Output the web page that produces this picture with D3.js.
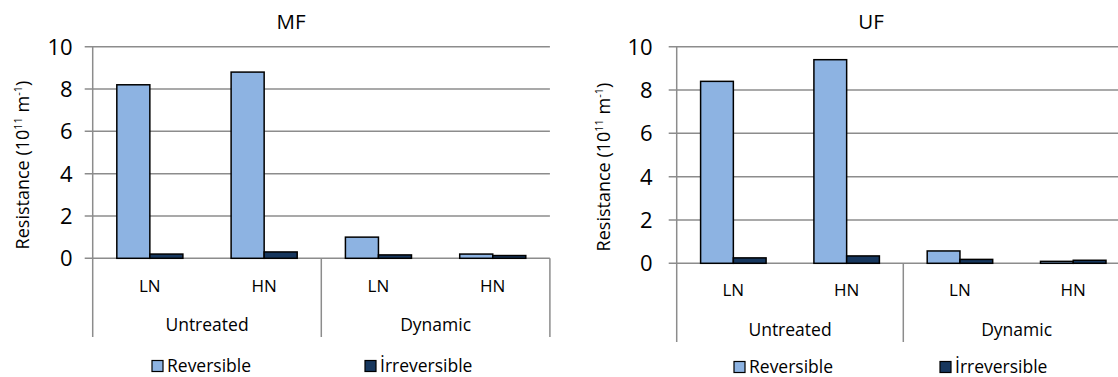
<!DOCTYPE html>
<html>
<head>
<meta charset="utf-8">
<script src="https://cdn.jsdelivr.net/npm/d3@7"></script>
<style>
	body { margin: 0; background: #fff; }
	svg { display: block; font-family: "Open Sans", sans-serif; }
</style>
</head>
<body>
<div id="chart"></div>
<script>
// data
const categories = ["LN", "HN", "LN", "HN"];
const groups = ["Untreated", "Dynamic"];
const seriesNames = ["Reversible", "İrreversible"];
const seriesColors = ["#8db3e2", "#17375e"];
const yTicks = [0, 2, 4, 6, 8, 10];

const mfReversible = [8.2, 8.8, 1.0, 0.2];
const mfIrreversible = [0.2, 0.3, 0.16, 0.13];
const ufReversible = [8.4, 9.4, 0.57, 0.09];
const ufIrreversible = [0.25, 0.34, 0.18, 0.14];

const svg = d3.select("#chart").append("svg")
	.attr("width", 1118).attr("height", 377);

// one panel per membrane
const drawPanel = (p) => {
	const g = svg.append("g");
	const y = d3.scaleLinear().domain([0, 10]).range([p.y0, p.y10]);
	const x = d3.scaleBand().domain(d3.range(categories.length))
		.range([p.left, p.left + p.step * categories.length]).paddingInner(0).paddingOuter(0);
	const xs = d3.scaleBand().domain([0, 1]).range([0, x.bandwidth()])
		.paddingInner(0).paddingOuter(0.73);

	// grid lines + ticks
	g.append("g").selectAll("line").data(yTicks).enter().append("line")
		.attr("x1", p.left - 8).attr("x2", p.left + p.step * categories.length)
		.attr("y1", d => y(d)).attr("y2", d => y(d))
		.attr("stroke", "#8c8c8c").attr("stroke-width", 1.5);

	g.append("g").selectAll("text").data(yTicks).enter().append("text")
		.attr("x", p.left - p.labelGap).attr("y", d => y(d) + 8)
		.attr("text-anchor", "end").attr("font-size", 22).attr("fill", "#000")
		.text(d => d);

	// vertical axis + category dividers
	const divs = [0, 2, 4];
	g.append("line").attr("x1", p.left).attr("x2", p.left)
		.attr("y1", p.y10).attr("y2", p.y0)
		.attr("stroke", "#8c8c8c").attr("stroke-width", 1.5);
	g.append("g").selectAll("line").data(divs).enter().append("line")
		.attr("x1", d => p.left + p.step * d).attr("x2", d => p.left + p.step * d)
		.attr("y1", p.y0).attr("y2", p.bottom)
		.attr("stroke", "#8c8c8c").attr("stroke-width", 1.5);

	// bars
	const sets = [p.rev, p.irr];
	sets.forEach((vals, si) => {
		g.append("g").selectAll("rect").data(vals).enter().append("rect")
			.attr("x", (d, i) => x(i) + xs(si))
			.attr("width", xs.bandwidth())
			.attr("y", d => y(d))
			.attr("height", d => y(0) - y(d))
			.attr("fill", seriesColors[si])
			.attr("stroke", "#000").attr("stroke-width", 1.5);
	});

	// category labels
	g.append("g").selectAll("text").data(categories).enter().append("text")
		.attr("x", (d, i) => x(i) + x.bandwidth() / 2).attr("y", p.catY)
		.attr("text-anchor", "middle").attr("font-size", 17).text(d => d);
	g.append("g").selectAll("text").data(groups).enter().append("text")
		.attr("x", (d, i) => p.left + p.step * (2 * i + 1)).attr("y", p.groupY)
		.attr("text-anchor", "middle").attr("font-size", 17.5).text(d => d);

	// title
	g.append("text").attr("x", p.titleX).attr("y", 29)
		.attr("text-anchor", "middle").attr("font-size", 20.5).text(p.title);

	// y label
	const yl = g.append("text")
		.attr("transform", "translate(" + (p.ylabX) + "," + p.ylabY + ") rotate(-90)")
		.attr("text-anchor", "middle").attr("font-size", 18);
	yl.append("tspan").text("Resistance (10");
	yl.append("tspan").attr("font-size", 11).attr("dy", -7).text("11");
	yl.append("tspan").attr("dy", 7).text(" m");
	yl.append("tspan").attr("font-size", 11).attr("dy", -7).text("-1");
	yl.append("tspan").attr("dy", 7).text(")");

	// legend
	seriesNames.forEach((name, si) => {
		g.append("rect").attr("x", p.legX[si]).attr("y", p.legY - 5.5)
			.attr("width", 11).attr("height", 11)
			.attr("fill", seriesColors[si]).attr("stroke", "#000").attr("stroke-width", 1.2);
		g.append("text").attr("x", p.legX[si] + 15).attr("y", p.legY + 6)
			.attr("font-size", 17.5).text(name);
	});
};

drawPanel({ title: "MF", rev: mfReversible, irr: mfIrreversible,
	left: 92.7, step: 114.3, y0: 258.3, y10: 46.7, bottom: 337, labelGap: 20,
	catY: 292, groupY: 331, titleX: 291, ylabX: 28.5, ylabY: 165,
	legX: [152, 365], legY: 366 });

drawPanel({ title: "UF", rev: ufReversible, irr: ufIrreversible,
	left: 676.7, step: 113.3, y0: 263.3, y10: 46.7, bottom: 342, labelGap: 24,
	catY: 296, groupY: 336, titleX: 871, ylabX: 609.5, ylabY: 167,
	legX: [734, 940], legY: 367 });
</script>
</body>
</html>
